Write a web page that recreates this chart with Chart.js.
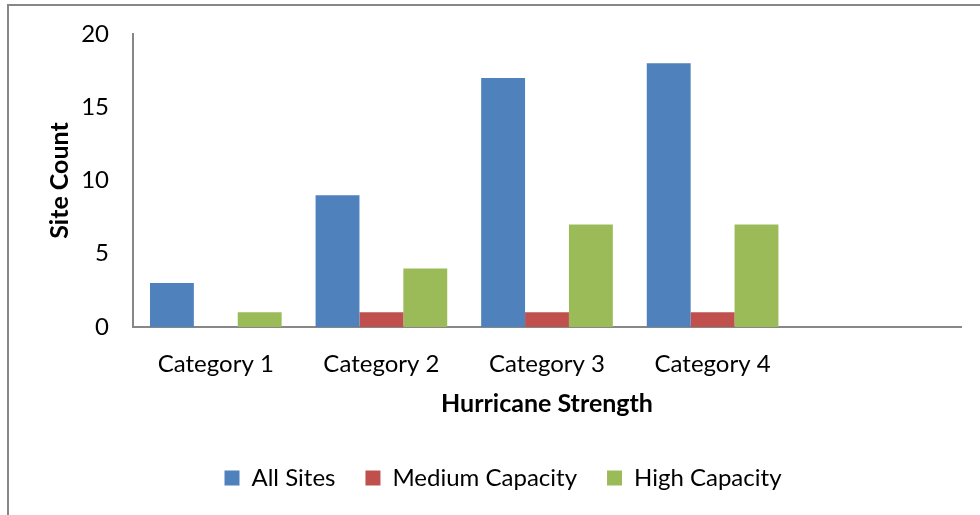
<!DOCTYPE html>
<html>
<head>
<meta charset="utf-8">
<script src="https://cdn.jsdelivr.net/npm/chart.js@4"></script>
<style>
  html, body { margin: 0; padding: 0; background: #fff; }
  body { width: 980px; height: 515px; position: relative; overflow: hidden; }
  #frame {
    position: absolute; left: 7px; top: 4px;
    width: 973px; height: 511px;
    border-top: 2px solid #878787; border-left: 2px solid #878787;
  }
  #wrap { position: absolute; left: 0; top: 0; width: 971px; height: 509px; }
</style>
</head>
<body>
<div id="frame"><div id="wrap"><canvas id="chart"></canvas></div></div>
<script>
// Hurricane strength categories (the trailing blank slot keeps the axis width)
const categories = ['Category 1', 'Category 2', 'Category 3', 'Category 4', ''];
const allSites = [3, 9, 17, 18, null];
const mediumCapacity = [0, 1, 1, 1, null];
const highCapacity = [1, 4, 7, 7, null];
const yTicks = [0, 5, 10, 15, 20];

const FONT = 'Lato, "Open Sans", sans-serif';
const axisColor = '#878787';

new Chart(document.getElementById('chart'), {
  type: 'bar',
  data: {
    labels: categories,
    datasets: [
      { label: 'All Sites', data: allSites, backgroundColor: '#4F81BD' },
      { label: 'Medium Capacity', data: mediumCapacity, backgroundColor: '#C0504D' },
      { label: 'High Capacity', data: highCapacity, backgroundColor: '#9BBB59' }
    ]
  },
  options: {
    responsive: true,
    maintainAspectRatio: false,
    animation: false,
    events: [],
    datasets: { bar: { barPercentage: 1.0, categoryPercentage: 0.795 } },
    layout: { padding: { left: 36, right: 19, top: 28, bottom: 15 } },
    plugins: {
      tooltip: { enabled: false },
      legend: {
        position: 'bottom',
        labels: {
          boxWidth: 15, boxHeight: 15, padding: 30,
          color: '#000', font: { family: FONT, size: 24 }
        }
      }
    },
    scales: {
      x: {
        grid: { display: false, drawTicks: false },
        border: { display: true, color: axisColor, width: 2 },
        ticks: { color: '#000', padding: 23, font: { family: FONT, size: 24 } },
        title: {
          display: true, text: 'Hurricane Strength', color: '#000',
          font: { family: FONT, size: 25, weight: 'bold' },
          padding: { top: 0, bottom: 17 }
        },
        afterFit: (s) => { s.height = 109; }
      },
      y: {
        min: 0, max: 20,
        afterBuildTicks: (s) => { s.ticks = yTicks.map(v => ({ value: v })); },
        grid: { display: false, drawTicks: false },
        border: { display: true, color: axisColor, width: 2 },
        ticks: { color: '#000', padding: 24, font: { family: FONT, size: 24 } },
        title: {
          display: true, text: 'Site Count', color: '#000',
          font: { family: FONT, size: 25, weight: 'bold' },
          padding: { top: 0, bottom: 0 }
        },
        afterFit: (s) => {
          s.width = 88;
          // keep the tick padding from pushing the plot area down
          s.paddingTop = 0;
          s.paddingBottom = 0;
        }
      }
    }
  }
});
</script>
</body>
</html>
